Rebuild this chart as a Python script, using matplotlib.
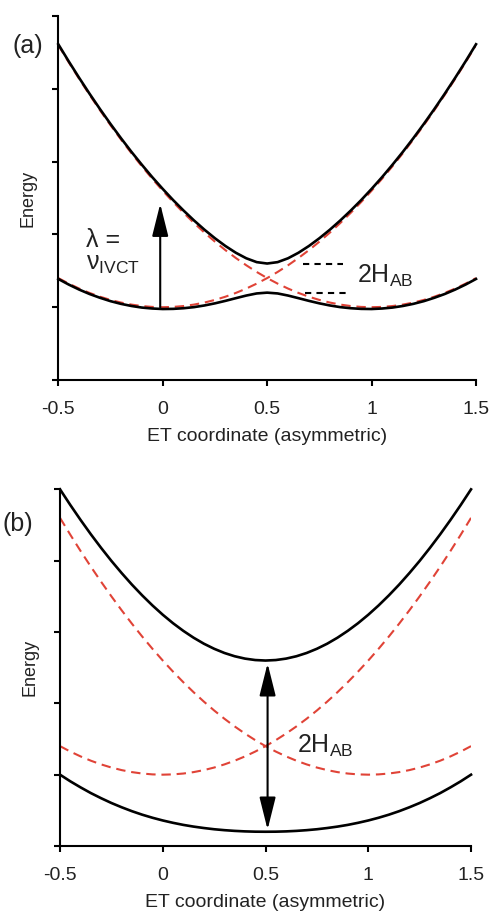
import matplotlib
matplotlib.use("Agg")
import matplotlib.pyplot as plt

plt.rcParams['font.family'] = ['Liberation Sans', 'DejaVu Sans']
plt.rcParams['mathtext.fontset'] = 'custom'
plt.rcParams['mathtext.rm'] = 'Liberation Sans'
plt.rcParams['mathtext.it'] = 'Liberation Sans'

# ET coordinate, shared by both panels
x = [-0.5, -0.45, -0.4, -0.35, -0.3, -0.25, -0.2, -0.15, -0.1, -0.05, 0.0,
     0.05, 0.1, 0.15, 0.2, 0.25, 0.3, 0.35, 0.4, 0.45, 0.5,
     0.55, 0.6, 0.65, 0.7, 0.75, 0.8, 0.85, 0.9, 0.95, 1.0,
     1.05, 1.1, 1.15, 1.2, 1.25, 1.3, 1.35, 1.4, 1.45, 1.5]

# diabatic states (red dashed), same in both panels
diab_a = [1.400, 1.324, 1.256, 1.196, 1.144, 1.100, 1.064, 1.036, 1.016, 1.004, 1.000,
          1.004, 1.016, 1.036, 1.064, 1.100, 1.144, 1.196, 1.256, 1.324, 1.400,
          1.484, 1.576, 1.676, 1.784, 1.900, 2.024, 2.156, 2.296, 2.444, 2.600,
          2.764, 2.936, 3.116, 3.304, 3.500, 3.704, 3.916, 4.136, 4.364, 4.600]
diab_b = diab_a[::-1]

# panel (a): weak coupling
upper_a = [4.612, 4.377, 4.150, 3.931, 3.720, 3.517, 3.322, 3.135, 2.957, 2.786, 2.625,
           2.471, 2.327, 2.191, 2.064, 1.947, 1.841, 1.748, 1.672, 1.619, 1.600,
           1.619, 1.672, 1.748, 1.841, 1.947, 2.064, 2.191, 2.327, 2.471, 2.625,
           2.786, 2.957, 3.135, 3.322, 3.517, 3.720, 3.931, 4.150, 4.377, 4.612]
lower_a = [1.388, 1.311, 1.242, 1.181, 1.129, 1.083, 1.046, 1.017, 0.995, 0.982, 0.975,
           0.977, 0.986, 1.001, 1.024, 1.053, 1.087, 1.124, 1.160, 1.189, 1.200,
           1.189, 1.160, 1.124, 1.087, 1.053, 1.024, 1.001, 0.986, 0.977, 0.975,
           0.982, 0.995, 1.017, 1.046, 1.083, 1.129, 1.181, 1.242, 1.311, 1.388]

# panel (b): strong coupling
upper_b = [5.000, 4.781, 4.571, 4.370, 4.179, 3.997, 3.826, 3.664, 3.513, 3.372, 3.242,
           3.123, 3.016, 2.920, 2.836, 2.765, 2.706, 2.660, 2.627, 2.607, 2.600,
           2.607, 2.627, 2.660, 2.706, 2.765, 2.836, 2.920, 3.016, 3.123, 3.242,
           3.372, 3.513, 3.664, 3.826, 3.997, 4.179, 4.370, 4.571, 4.781, 5.000]
lower_b = [1.000, 0.907, 0.822, 0.742, 0.670, 0.603, 0.543, 0.488, 0.439, 0.396, 0.358,
           0.325, 0.296, 0.272, 0.252, 0.235, 0.222, 0.212, 0.205, 0.201, 0.200,
           0.201, 0.205, 0.212, 0.222, 0.235, 0.252, 0.272, 0.296, 0.325, 0.358,
           0.396, 0.439, 0.488, 0.543, 0.603, 0.670, 0.742, 0.822, 0.907, 1.000]

xticks = [-0.5, 0, 0.5, 1, 1.5]
xticklabels = ['-0.5', '0', '0.5', '1', '1.5']

RED = '#e04337'
TXT = '#222222'


def style_axes(ax):
    ax.set_xlim(-0.5, 1.5)
    ax.set_ylim(0, 5)
    ax.spines['top'].set_visible(False)
    ax.spines['right'].set_visible(False)
    for s in ['left', 'bottom']:
        ax.spines[s].set_linewidth(1.5)
    ax.set_xticks(xticks)
    ax.set_xticklabels(xticklabels, fontsize=14, color=TXT)
    ax.set_yticks(range(6))
    ax.set_yticklabels([])
    ax.tick_params(direction='out', length=4, width=1.5)
    ax.tick_params(axis='x', pad=11)
    ax.set_xlabel('ET coordinate (asymmetric)', fontsize=14, labelpad=7, color=TXT)
    ax.set_ylabel('Energy', fontsize=13, labelpad=8, color=TXT)
    ax.patch.set_alpha(0)


def draw_curves(ax, upper, lower):
    ax.plot(x, diab_a, color=RED, lw=1.5, dashes=(4.5, 2.8), zorder=2)
    ax.plot(x, diab_b, color=RED, lw=1.5, dashes=(4.5, 2.8), zorder=2)
    ax.plot(x, upper, color='black', lw=1.9, zorder=3, clip_on=False)
    ax.plot(x, lower, color='black', lw=1.9, zorder=3, clip_on=False)


fig = plt.figure(figsize=(4.94, 9.15), dpi=100)

# panel (a)
ax1 = fig.add_axes([0.118, 0.5847, 0.8456, 0.3978])
draw_curves(ax1, upper_a, lower_a)
style_axes(ax1)
ax1.annotate('', xy=(-0.012, 2.42), xytext=(-0.012, 1.0),
             arrowprops=dict(arrowstyle='-|>,head_length=1.0,head_width=0.25',
                             color='black', lw=1.5, mutation_scale=20,
                             shrinkA=0, shrinkB=0))
ax1.text(-0.365, 1.83, 'λ =', fontsize=18, va='baseline', ha='left', color=TXT)
ax1.text(-0.365, 1.51, r'$\mathrm{\nu}_{\mathrm{IVCT}}$', fontsize=18,
         va='baseline', ha='left', color=TXT)
ax1.plot([0.672, 0.864], [1.60, 1.60], color='black', lw=1.5, dashes=(3, 2.5))
ax1.plot([0.68, 0.88], [1.20, 1.20], color='black', lw=1.5, dashes=(3, 2.5))
ax1.text(0.93, 1.33, r'2H$_{\mathrm{AB}}$', fontsize=18, va='baseline', ha='left',
         color=TXT)
fig.text(13 / 494, 1 - 46 / 915, '(a)', fontsize=18, va='center', ha='left', color=TXT)

# panel (b)
ax2 = fig.add_axes([0.1215, 0.0754, 0.832, 0.3898])
draw_curves(ax2, upper_b, lower_b)
style_axes(ax2)
ax2.annotate('', xy=(0.51, 2.56), xytext=(0.51, 0.23),
             arrowprops=dict(arrowstyle='<|-|>,head_length=1.0,head_width=0.25',
                             color='black', lw=1.5, mutation_scale=20,
                             shrinkA=0, shrinkB=0))
ax2.text(0.652, 1.30, r'2H$_{\mathrm{AB}}$', fontsize=18, va='baseline', ha='left',
         color=TXT)
fig.text(2 / 494, 1 - 524 / 915, '(b)', fontsize=18, va='center', ha='left', color=TXT)

fig.savefig('out.png', dpi=100, facecolor='white')
